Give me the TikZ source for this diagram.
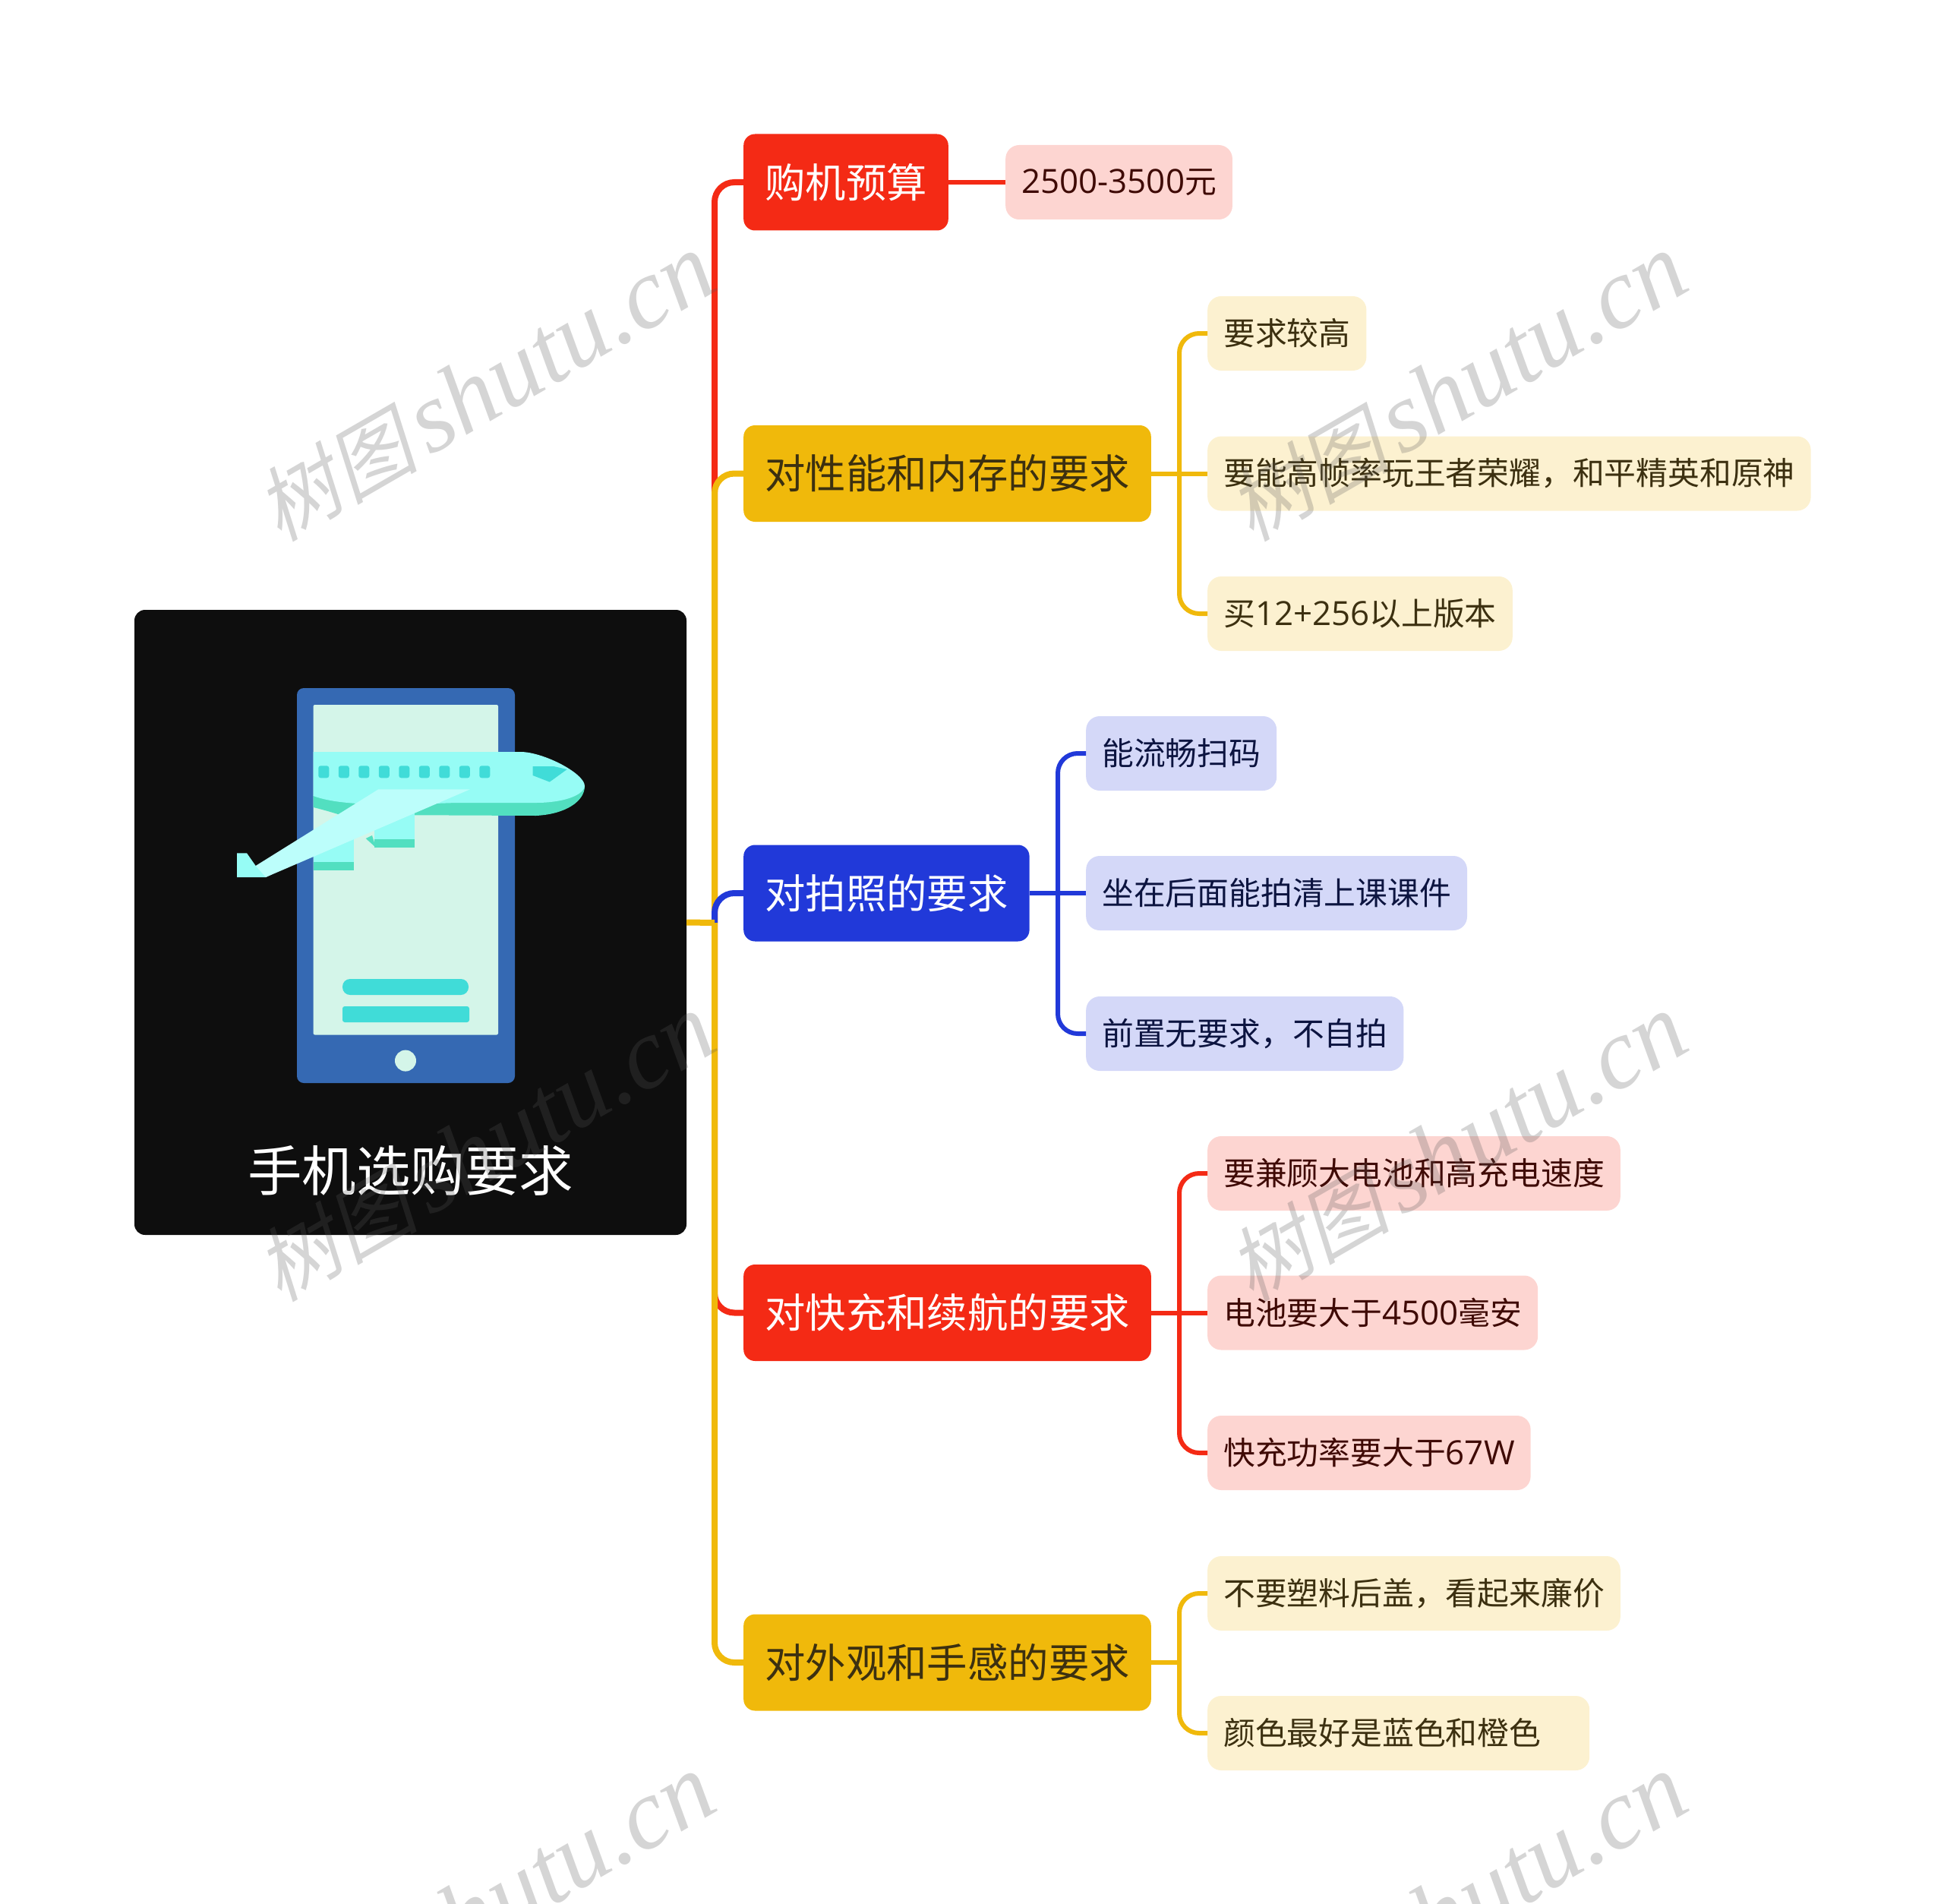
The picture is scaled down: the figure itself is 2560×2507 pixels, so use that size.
\documentclass[tikz,border=0pt]{standalone}
\usepackage{fontspec}
\setmainfont{Noto Sans CJK SC}
\newfontfamily\markcjk[FakeSlant=0.22]{Noto Sans CJK SC}
\newfontfamily\marklatin{Liberation Serif}
\newfontfamily\numfont[Scale=1.05]{Open Sans}
\usepackage{xcolor}
\usepackage{tikz}
\usetikzlibrary{positioning, arrows.meta, shapes.geometric}

\definecolor{rootblack}{HTML}{0E0E0E}
\definecolor{mainred}{HTML}{F42A15}
\definecolor{mainyellow}{HTML}{F0B90B}
\definecolor{mainblue}{HTML}{2139D9}
\definecolor{palered}{HTML}{FDD5D1}
\definecolor{paleyellow}{HTML}{FCF1D0}
\definecolor{paleblue}{HTML}{D4D8F8}
\definecolor{inkred}{HTML}{3F0A05}
\definecolor{inkyellow}{HTML}{3C3010}
\definecolor{inkblue}{HTML}{0C1440}
\definecolor{phoneblue}{HTML}{3569B3}
\definecolor{screenmint}{HTML}{D4F5E9}
\definecolor{planeteal}{HTML}{96FCF5}
\definecolor{planedark}{HTML}{52DFC0}
\definecolor{planewing}{HTML}{BCFEFB}
\definecolor{planeaqua}{HTML}{40DCD8}

\tikzset{
    topic/.style={anchor=west, rounded corners=15pt, minimum height=127pt, inner xsep=28pt, inner ysep=0pt, font=\fontsize{53.4}{53.4}\selectfont},
    detail/.style={anchor=west, rounded corners=18pt, minimum height=98pt, inner xsep=21pt, inner ysep=0pt, font=\fontsize{41.8}{41.8}\selectfont},
    redtopic/.style={topic, fill=mainred, text=white},
    yellowtopic/.style={topic, fill=mainyellow, text=inkyellow},
    bluetopic/.style={topic, fill=mainblue, text=white},
    reddetail/.style={detail, fill=palered, text=inkred},
    yellowdetail/.style={detail, fill=paleyellow, text=inkyellow},
    bluedetail/.style={detail, fill=paleblue, text=inkblue},
    trunkline/.style={line width=8pt, rounded corners=26pt},
    twigline/.style={line width=6pt, rounded corners=26pt}
}

\begin{document}
\begin{tikzpicture}[x=1pt, y=-1pt]
        \useasboundingbox (0,0) rectangle (2560,2507);
        \clip (0,0) rectangle (2560,2507);

        \node[fill=rootblack, rounded corners=14pt, minimum width=727pt, minimum height=823pt, inner sep=0pt] (root) at (540.5,1214.5) {};

        \node[redtopic] (budget) at (979,240) {购机预算};
        \node[yellowtopic] (speed) at (979,623.5) {对性能和内存的要求};
        \node[bluetopic] (camera) at (979,1176) {对拍照的要求};
        \node[redtopic] (battery) at (979,1728.5) {对快充和续航的要求};
        \node[yellowtopic] (looks) at (979,2189) {对外观和手感的要求};

        \node[reddetail] (budgetA) at (1324,240) {{\numfont 2500-3500}元};
        \node[yellowdetail] (speedA) at (1590,439) {要求较高};
        \node[yellowdetail] (speedB) at (1590,623.5) {要能高帧率玩王者荣耀，和平精英和原神};
        \node[yellowdetail] (speedC) at (1590,808) {买{\numfont 12+256}以上版本};
        \node[bluedetail] (cameraA) at (1430,992) {能流畅扫码};
        \node[bluedetail] (cameraB) at (1430,1176) {坐在后面能拍清上课课件};
        \node[bluedetail] (cameraC) at (1430,1361) {前置无要求，不自拍};
        \node[reddetail] (batteryA) at (1590,1545) {要兼顾大电池和高充电速度};
        \node[reddetail] (batteryB) at (1590,1728.5) {电池要大于{\numfont 4500}毫安};
        \node[reddetail] (batteryC) at (1590,1913) {快充功率要大于{\numfont 67W}};
        \node[yellowdetail] (looksA) at (1590,2098) {不要塑料后盖，看起来廉价};
        \node[yellowdetail, text width=461pt] (looksB) at (1590,2282) {颜色最好是蓝色和橙色};

        \coordinate (trunk) at (941,1215);
        \coordinate (speedhub) at (1553,623.5);
        \coordinate (camerahub) at (1393,1176);
        \coordinate (batteryhub) at (1553,1728.5);
        \coordinate (lookshub) at (1553,2189);

        \draw[trunkline, mainred] (trunk) |- (budget.west);
        \draw[trunkline, mainyellow] (trunk) |- (speed.west);
        \draw[trunkline, mainblue] (trunk) |- (camera.west);
        \draw[trunkline, mainred] (trunk) |- (battery.west);
        \draw[trunkline, mainyellow] (trunk) |- (looks.west);
        \draw[line width=8pt, mainyellow] (root.east) -- (trunk);

        \draw[twigline, mainred] (budget.east) -- (budgetA.west);
        \draw[twigline, mainyellow] (speed.east) -- (speedB.west);
        \draw[twigline, mainyellow] (speedhub) |- (speedA.west);
        \draw[twigline, mainyellow] (speedhub) |- (speedC.west);
        \draw[twigline, mainblue] (camera.east) -- (cameraB.west);
        \draw[twigline, mainblue] (camerahub) |- (cameraA.west);
        \draw[twigline, mainblue] (camerahub) |- (cameraC.west);
        \draw[twigline, mainred] (battery.east) -- (batteryB.west);
        \draw[twigline, mainred] (batteryhub) |- (batteryA.west);
        \draw[twigline, mainred] (batteryhub) |- (batteryC.west);
        \draw[twigline, mainyellow] (looks.east) -- (lookshub);
        \draw[twigline, mainyellow] (lookshub) |- (looksA.west);
        \draw[twigline, mainyellow] (lookshub) |- (looksB.west);

        \fill[phoneblue, rounded corners=9pt] (391,906) rectangle (678,1426);
        \fill[screenmint, rounded corners=2pt] (412.6,928) rectangle (656,1362.5);
        \fill[screenmint] (534,1396.6) circle (14);
        \fill[planeaqua, rounded corners=10pt] (451,1289) rectangle (617,1310);
        \fill[planeaqua, rounded corners=3pt] (451,1325) rectangle (618,1346);

        \fill[planedark] (412.6,1047) -- (412.6,1063) .. controls (425,1066) and (435,1069) .. (445,1072) -- (480,1073) -- (706,1074) .. controls (745,1072) and (770,1055) .. (770,1035) -- cycle;
        \fill[planeteal] (412.6,990) -- (685.5,990) .. controls (715,990) and (770,1018) .. (770,1035) .. controls (768,1048) and (740,1057) .. (706,1057) -- (600,1057) .. controls (520,1060) and (450,1062) .. (412.6,1048) -- cycle;
        \foreach \win in {0,...,8}
            \fill[planeaqua, rounded corners=3pt] (419.3+26.5*\win,1008.3) rectangle ++(14,16);
        \fill[planeaqua] (701.6,1009) -- (729,1009) -- (746.7,1013) -- (723.8,1029.6) -- (701.6,1021) -- cycle;

        \fill[planeteal] (413,1100) rectangle (465.7,1135);
        \fill[planedark] (413,1135) rectangle (465.7,1146);
        \fill[planedark] (481.7,1104) -- (490,1100) -- (495,1116) -- cycle;
        \fill[planeteal] (493.3,1065) rectangle (546,1105);
        \fill[planedark] (493.3,1105) rectangle (546,1116);
        \fill[planeteal] (312,1123.3) -- (325,1123.3) -- (336.7,1140) -- (380,1140) -- (350,1155) -- (312,1155) -- cycle;
        \fill[planewing] (336.7,1140) -- (498.3,1039.3) -- (619,1039.3) -- (350,1155) -- cycle;

        \node[text=white, font=\fontsize{71.5}{71.5}\selectfont, inner sep=0pt] (rootlabel) at (540.5,1541) {手机选购要求};

        \foreach \col in {0,1}
            \foreach \row in {0,1,2}
                \node[rotate=30, text=black!65, opacity=0.25, font=\fontsize{107}{107}\selectfont] (mark\col\row) at (639+1280*\col,511+1001*\row) {{\markcjk 树图}\hspace{14pt}{\marklatin\itshape\fontsize{132}{132}\selectfont shutu.cn}};
    \end{tikzpicture}
\end{document}
